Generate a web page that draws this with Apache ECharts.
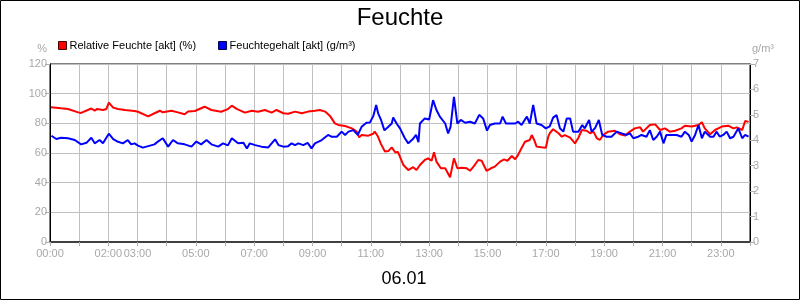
<!DOCTYPE html>
<html>
<head>
<meta charset="utf-8">
<script src="https://cdn.jsdelivr.net/npm/echarts@6/dist/echarts.min.js"></script>
<style>html,body{margin:0;padding:0;background:#fff}#c{width:800px;height:300px}</style>
</head>
<body>
<div id="c"></div>
<script>
// time in minutes after 00:00
const rhTimes = [2,23,37,58,64,85,92,97,109,116,121,130,140,154,174,181,202,215,226,232,250,263,277,284,298,318,332,352,366,374,384,401,415,428,442,456,466,480,490,504,518,531,545,555,566,576,586,593,607,621,631,636,641,655,665,668,674,681,689,696,703,710,716,727,737,747,754,761,771,778,785,790,795,804,813,823,831,838,847,857,864,872,881,888,898,907,915,926,934,941,950,957,963,968,977,987,991,996,1001,1011,1020,1025,1028,1035,1046,1053,1059,1070,1080,1087,1094,1104,1111,1118,1125,1131,1138,1148,1162,1173,1183,1193,1203,1214,1220,1234,1245,1255,1265,1275,1286,1299,1306,1320,1334,1341,1347,1358,1368,1382,1395,1406,1413,1424,1430,1437];
const rhValues = [90.8,90.1,89.7,87.4,87,90,88.6,89.7,89,89.7,94,90.6,89.7,89,88.3,87.8,84.7,86.8,88.5,87.4,88.5,87.4,86.1,88,88.3,91.2,89,87.8,89.6,91.9,89.7,87.2,88.5,87.8,89,87.2,89,86.8,86.5,87.9,86.8,87.9,88.5,89,87.9,85,80,78.9,78.2,76.6,74.4,70.6,72.1,71.7,73,74.5,71.5,66,61,61.3,63.8,60.5,60.6,51.9,48.5,50.4,48.5,51.9,55.3,56.4,54.8,60.5,54.2,49.7,49.7,43.6,56.4,49.7,50,49.7,48,51.2,55.3,54.8,48,49.7,50.8,54.2,55.7,54.8,58,55.8,58.7,62,67.6,68.8,72.1,68.8,64.3,63.9,63.6,71,73.3,76,73.3,71,72.1,70.3,66.5,70.3,75.5,75,73.3,74.4,69.9,68.8,72.1,74.4,75,72.6,71.7,74.4,76.6,77.3,74.4,78.9,79.3,75.5,76.6,74.4,75,76.6,78.4,77.8,78.9,80.7,76.6,72.6,75.5,77.8,78.4,76.6,77.3,75.5,81.6,81];
const ahTimes = [3,13,23,37,51,64,75,85,92,102,109,121,130,140,150,160,167,174,181,191,202,215,222,232,243,253,263,277,291,301,311,322,332,346,356,366,374,387,398,405,411,422,435,449,463,470,480,490,497,504,511,521,530,538,545,559,572,579,590,600,607,614,624,633,641,651,658,665,671,675,681,688,696,703,706,713,720,730,737,746,753,758,761,771,780,788,795,802,813,819,824,831,838,845,854,864,874,883,891,899,905,915,926,931,938,946,957,963,970,981,987,994,1001,1011,1020,1028,1035,1042,1049,1056,1063,1070,1076,1087,1095,1100,1109,1114,1121,1129,1136,1145,1155,1166,1176,1186,1193,1200,1210,1217,1227,1234,1241,1248,1255,1262,1268,1279,1289,1299,1306,1314,1320,1327,1334,1341,1347,1358,1365,1371,1378,1385,1392,1399,1406,1416,1424,1430,1437];
const ahValues = [4.18,4.05,4.10,4.08,4.01,3.84,3.90,4.10,3.88,4.01,3.88,4.26,4.05,3.94,3.88,4.01,3.84,3.88,3.79,3.71,3.77,3.84,3.95,4.08,3.75,4.01,3.88,3.84,3.75,3.95,3.84,4.01,3.84,3.75,3.88,3.80,4.08,3.88,3.90,3.68,3.88,3.81,3.75,3.72,4.04,3.81,3.75,3.77,3.88,3.81,3.88,3.81,3.90,3.68,3.88,4.01,4.21,4.14,4.14,4.34,4.21,4.34,4.40,4.21,4.53,4.69,4.70,4.95,5.39,5.06,4.80,4.39,4.53,4.66,4.90,4.66,4.47,4.08,3.88,4.04,4.21,3.93,4.66,4.86,4.82,5.58,5.19,4.93,4.66,4.27,4.53,5.71,4.66,4.80,4.69,4.73,4.66,5.0,4.86,4.38,4.60,4.66,4.66,4.93,4.66,4.66,4.66,4.73,4.60,4.93,4.66,5.39,4.66,4.60,4.47,4.55,4.89,4.99,4.47,4.34,4.86,4.86,4.34,4.34,4.60,4.47,4.80,4.34,4.47,4.80,4.21,4.14,4.14,4.34,4.27,4.21,4.27,4.08,4.14,4.21,4.14,4.40,4.01,4.14,4.34,3.88,4.21,4.21,4.21,4.14,4.34,4.21,3.95,4.21,4.60,4.08,4.34,4.14,4.14,4.34,4.14,4.21,4.34,4.08,4.14,4.47,4.08,4.21,4.14];
const hourLabels = ['00:00','','02:00','03:00','','05:00','','07:00','','09:00','','11:00','','13:00','','15:00','','17:00','','19:00','','21:00','','23:00',''];
const leftTicks = [0,20,40,60,80,100,120];
const rightTicks = [0,1,2,3,4,5,6,7];
const titleText = 'Feuchte';
const dateText = '06.01';
const rhName = 'Relative Feuchte [akt] (%)';
const ahName = 'Feuchtegehalt [akt] (g/m³)';

const zip = (a, b) => a.map((t, i) => [t, b[i]]);
const FONT = '"Liberation Sans", Arial, sans-serif';
const GREY = '#a8a8a8';

const chart = echarts.init(document.getElementById('c'), null, {renderer: 'canvas'});
chart.setOption({
  animation: false,
  backgroundColor: '#fff',
  textStyle: {fontFamily: FONT},
  title: [
    {text: titleText, left: 'center', top: 1, textStyle: {fontSize: 24, fontWeight: 'normal', color: '#000', fontFamily: FONT}},
    {text: dateText, left: 399, textAlign: 'center', top: 265, textStyle: {fontSize: 18, fontWeight: 'normal', color: '#000', fontFamily: FONT}}
  ],
  legend: {
    left: 53, top: 35, itemWidth: 8, itemHeight: 8, itemGap: 22, icon: 'rect',
    textStyle: {fontSize: 11, color: '#000', fontFamily: FONT, padding: [0, 0, 0, -2]},
    data: [
      {name: rhName, itemStyle: {color: '#ff0000', borderColor: '#400000', borderWidth: 1}},
      {name: ahName, itemStyle: {color: '#0000ff', borderColor: '#000040', borderWidth: 1}}
    ]
  },
  grid: {left: 50, right: 50, top: 64, bottom: 58, show: true, borderColor: '#000', borderWidth: 1, backgroundColor: 'transparent'},
  xAxis: {
    type: 'value', min: 0, max: 1440, interval: 60,
    axisLine: {show: true, lineStyle: {color: '#404040', width: 2}},
    axisTick: {show: true, length: 4, lineStyle: {color: '#b0b0b0'}},
    axisLabel: {color: GREY, fontSize: 11, fontFamily: FONT, margin: 6, showMaxLabel: true,
      formatter: v => hourLabels[Math.round(v / 60)] || ''},
    splitLine: {show: true, lineStyle: {color: '#c0c0c0', width: 1}}
  },
  yAxis: [
    {type: 'value', min: leftTicks[0], max: leftTicks[leftTicks.length - 1], interval: 20, position: 'left',
      name: '%', nameLocation: 'end', nameGap: 10,
      nameTextStyle: {color: GREY, fontSize: 11, fontFamily: FONT, align: 'right', padding: [0, 3, 0, 0]},
      axisLine: {show: true, lineStyle: {color: '#000'}},
      axisTick: {show: true, length: 5, lineStyle: {color: '#b0b0b0'}},
      axisLabel: {color: GREY, fontSize: 11, fontFamily: FONT, margin: 3},
      splitLine: {show: true, lineStyle: {color: '#c0c0c0', width: 1}}},
    {type: 'value', min: rightTicks[0], max: rightTicks[rightTicks.length - 1], interval: 1, position: 'right',
      name: 'g/m³', nameLocation: 'end', nameGap: 10,
      nameTextStyle: {color: GREY, fontSize: 11, fontFamily: FONT, align: 'left', padding: [0, 0, 0, 2]},
      axisLine: {show: true, lineStyle: {color: '#000'}},
      axisTick: {show: true, length: 5, lineStyle: {color: '#b0b0b0'}},
      axisLabel: {color: GREY, fontSize: 11, fontFamily: FONT, margin: 3},
      splitLine: {show: false}}
  ],
  series: [
    {name: rhName, type: 'line', yAxisIndex: 0, data: zip(rhTimes, rhValues), showSymbol: false, symbol: 'none',
      lineStyle: {color: '#ff0000', width: 2}, itemStyle: {color: '#ff0000'}, z: 3},
    {name: ahName, type: 'line', yAxisIndex: 1, data: zip(ahTimes, ahValues), showSymbol: false, symbol: 'none',
      lineStyle: {color: '#0000ff', width: 2}, itemStyle: {color: '#0000ff'}, z: 4}
  ],
  graphic: [
    {type: 'rect', shape: {x: 0.5, y: 0.5, width: 799, height: 299}, style: {fill: 'none', stroke: '#000', lineWidth: 1}, silent: true, z: 100}
  ]
});
</script>
</body>
</html>
